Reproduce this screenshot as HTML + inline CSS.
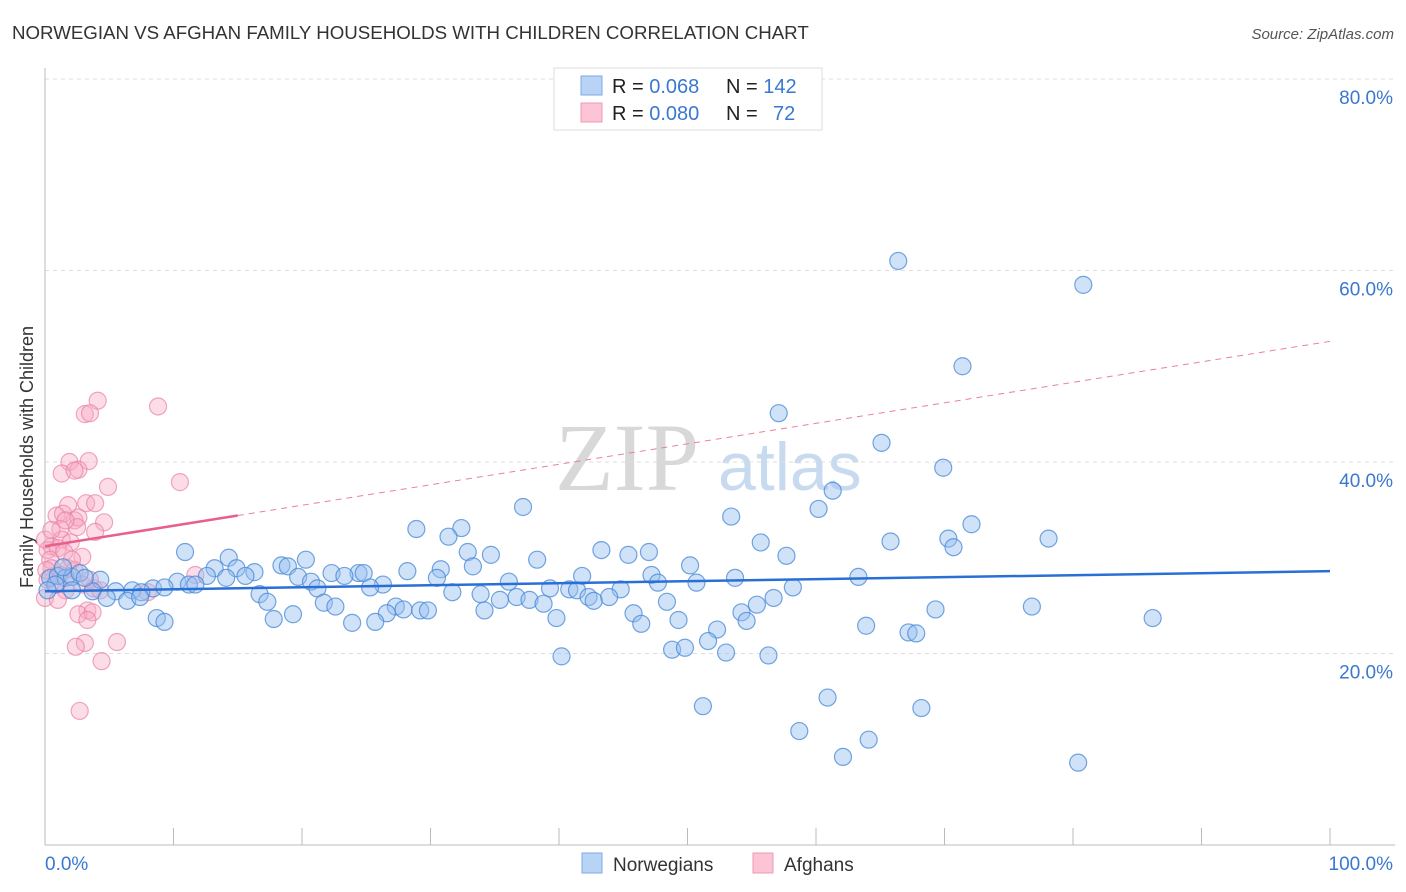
<!DOCTYPE html>
<html><head><meta charset="utf-8"><style>
body{margin:0;background:#fff;font-family:"Liberation Sans",sans-serif;}
#wrap{position:relative;width:1406px;height:892px;overflow:hidden;}
</style></head><body>
<div id="wrap">
<svg id="svg" width="1406" height="892" xmlns="http://www.w3.org/2000/svg">
<text x="12" y="39" font-size="18.7" fill="#333">NORWEGIAN VS AFGHAN FAMILY HOUSEHOLDS WITH CHILDREN CORRELATION CHART</text>
<text x="1394" y="39" font-size="15" fill="#555" font-style="italic" text-anchor="end">Source: ZipAtlas.com</text>
<text x="33" y="457" font-size="18" fill="#333" text-anchor="middle" transform="rotate(-90 33 457)">Family Households with Children</text>
<text x="555" y="490" font-size="96" fill="#d8d8d8" font-family="Liberation Serif,serif">ZIP</text>
<text x="718" y="490" font-size="68" fill="#c8daf0">atlas</text>
<g id="grid"></g>
<g id="marks"></g>
<g id="legend">
<rect x="554" y="68" width="268" height="62" fill="#fff" stroke="#ddd"/>
<rect x="581" y="76" width="21" height="19" fill="#b8d3f5" stroke="#7eaae6"/>
<rect x="581" y="103" width="21" height="19" fill="#fcc4d4" stroke="#ee9ab5"/>
<text x="612" y="93" font-size="20" fill="#222">R = <tspan fill="#3a78d0">0.068</tspan><tspan x="726">N = </tspan><tspan fill="#3a78d0">142</tspan></text>
<text x="612" y="120" font-size="20" fill="#222">R = <tspan fill="#3a78d0">0.080</tspan><tspan x="726">N = </tspan><tspan x="773" fill="#3a78d0">72</tspan></text>
</g>
<g>
<rect x="582" y="853" width="20" height="20" fill="#b8d3f5" stroke="#7eaae6"/>
<text x="613" y="871" font-size="19" fill="#333">Norwegians</text>
<rect x="753" y="853" width="20" height="20" fill="#fcc4d4" stroke="#ee9ab5"/>
<text x="784" y="871" font-size="19" fill="#333">Afghans</text>
</g>
</svg>
</div>
<script>
const yTicks=[20,40,60,80];
const yTickLabels=["20.0%","40.0%","60.0%","80.0%"];
const xTickLabels=["0.0%","100.0%"];
const blueX=[66.4,80.8,71.4,57.1,65.1,69.9,61.3,37.2,60.2,53.4,72.1,28.9,32.4,31.4,78.1,70.3,65.8,55.7,70.7,43.3,47.0,10.9,32.9,45.4,34.7,57.7,38.3,20.3,14.3,50.2,18.4,18.9,13.2,14.9,33.3,28.2,16.3,30.8,22.3,24.4,24.8,23.3,15.6,12.6,41.8,47.2,63.3,53.7,30.5,19.7,14.1,10.3,11.2,11.7,20.7,36.1,50.7,47.7,4.3,26.3,25.3,21.2,39.3,40.8,41.4,44.8,58.2,8.4,6.8,7.5,9.3,5.5,3.7,16.7,31.7,33.9,36.7,42.3,43.9,56.7,35.4,37.7,4.8,6.4,7.4,17.3,21.7,22.6,27.3,27.9,29.2,29.8,26.6,38.8,48.4,42.7,55.4,69.3,76.8,34.2,45.8,54.2,19.3,17.8,39.8,49.3,54.6,86.2,8.7,9.3,23.9,25.7,46.4,63.9,52.3,67.2,67.8,51.6,48.8,49.8,53.0,56.3,40.2,60.9,51.2,68.2,58.7,64.1,62.1,80.4,0.4,1.0,1.6,2.1,2.7,1.4,0.8,3.1,0.2,2.1];
const blueY=[61.0,58.5,50.0,45.1,42.0,39.4,37.0,35.3,35.1,34.3,33.5,33.0,33.1,32.2,32.0,32.0,31.7,31.6,31.1,30.8,30.6,30.6,30.6,30.3,30.3,30.2,29.8,29.8,30.0,29.2,29.2,29.1,28.9,28.9,29.1,28.6,28.5,28.8,28.4,28.4,28.4,28.1,28.1,28.1,28.1,28.2,28.0,27.9,27.9,28.0,27.9,27.5,27.2,27.2,27.5,27.5,27.4,27.4,27.7,27.2,26.9,26.8,26.8,26.7,26.6,26.7,26.9,26.8,26.6,26.4,26.9,26.5,26.5,26.2,26.4,26.2,25.9,25.9,25.9,25.8,25.6,25.6,25.8,25.5,25.9,25.4,25.3,24.9,24.9,24.6,24.5,24.5,24.2,25.2,25.4,25.5,25.1,24.6,24.9,24.5,24.2,24.3,24.1,23.6,23.7,23.5,23.4,23.7,23.7,23.3,23.2,23.3,23.1,22.9,22.5,22.2,22.1,21.3,20.4,20.6,20.1,19.8,19.7,15.4,14.5,14.3,11.9,11.0,9.2,8.6,27.9,28.1,27.9,28.0,28.4,29.0,27.2,27.9,26.6,26.6];
const pinkX=[4.1,8.8,3.1,3.5,1.9,3.4,1.3,2.6,2.3,4.9,10.5,1.8,3.2,3.9,0.9,1.4,2.3,2.6,4.6,1.2,2.5,3.9,1.3,2.0,0.5,0.2,1.0,1.5,2.9,0.4,0.5,1.8,2.3,1.2,11.7,0.2,0.9,2.9,3.8,1.6,8.0,0.0,3.3,2.6,3.7,3.3,5.6,3.1,2.4,4.4,2.7,0.0,0.5,1.6,2.1,0.1,1.0,3.5,4.3];
const pinkY=[46.4,45.8,45.0,45.1,40.0,40.1,38.8,39.2,39.1,37.4,37.9,35.5,35.7,35.7,34.4,34.6,33.9,34.2,33.7,33.0,33.2,32.7,31.9,31.6,31.2,30.8,31.0,30.6,30.1,29.8,28.9,28.9,28.7,28.2,28.2,27.7,27.2,27.2,26.8,26.6,26.4,25.8,24.5,24.1,24.3,23.5,21.2,21.1,20.7,19.2,14.0,31.9,32.9,33.9,29.8,28.7,25.6,27.7,26.6];
const blueTrend=[26.5,28.6];
const pinkTrend=[31.2,52.6];
const NS="http://www.w3.org/2000/svg";
const X=v=>45+v*12.85, Y=v=>845-v*9.575;
function mk(tag,attrs,parent){const e=document.createElementNS(NS,tag);for(const k in attrs)e.setAttribute(k,attrs[k]);parent.appendChild(e);return e;}
const grid=document.getElementById('grid'),marks=document.getElementById('marks');
yTicks.forEach((t,i)=>{
 const l=mk('line',{x1:45,x2:1395,y1:Y(t),y2:Y(t),stroke:'#ddd','stroke-dasharray':'4,4'},grid);
 
 
 const tx=mk('text',{x:1393,y:Y(t)+25,'font-size':19,fill:'#3a78d0','text-anchor':'end'},grid);
 tx.textContent=yTickLabels[i];
 
 
});
let a=mk('line',{x1:45,x2:45,y1:68,y2:845,stroke:'#bbb'},grid);


a=mk('line',{x1:45,x2:1395,y1:845,y2:845,stroke:'#bbb'},grid);


for(let i=1;i<=10;i++){const t=mk('line',{x1:X(i*10),x2:X(i*10),y1:828,y2:845,stroke:'#bbb'},grid);
 
 }
[[0,'start',45],[100,'end',1393]].forEach((d,i)=>{const t=mk('text',{x:d[2],y:870,'font-size':19,fill:'#3a78d0','text-anchor':d[1]},grid);t.textContent=xTickLabels[i];
 
 });
pinkX.forEach((x,i)=>{const c=mk('circle',{cx:X(x),cy:Y(pinkY[i]),r:8.5,fill:'rgba(247,170,195,0.4)',stroke:'rgba(232,130,165,0.7)','stroke-width':1.2},marks);
 
 });
blueX.forEach((x,i)=>{const c=mk('circle',{cx:X(x),cy:Y(blueY[i]),r:8.5,fill:'rgba(150,190,240,0.45)',stroke:'rgba(70,135,215,0.75)','stroke-width':1.2},marks);
 
 });
let t=mk('line',{x1:X(0),y1:Y(blueTrend[0]),x2:X(100),y2:Y(blueTrend[1]),stroke:'#2a6fd6','stroke-width':2.5},marks);


const pAt=x=>pinkTrend[0]+(pinkTrend[1]-pinkTrend[0])*x/100;
t=mk('line',{x1:X(0),y1:Y(pAt(0)),x2:X(15),y2:Y(pAt(15)),stroke:'#e8608a','stroke-width':2.5},marks);


t=mk('line',{x1:X(15),y1:Y(pAt(15)),x2:X(100),y2:Y(pAt(100)),stroke:'#e8809f','stroke-width':1,'stroke-dasharray':'6,5'},marks);


</script>
</body></html>
